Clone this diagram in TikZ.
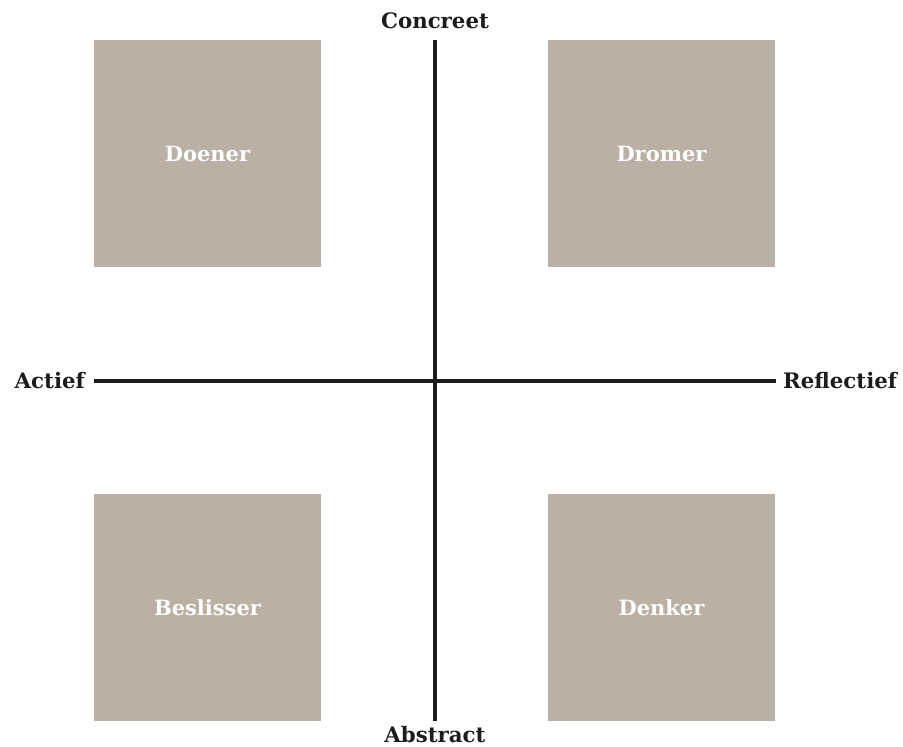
\documentclass[tikz,border=0pt]{standalone}
\usepackage{fontspec}
\setmainfont{DejaVu Serif}
\usepackage{tikz}
\usetikzlibrary{positioning}

\definecolor{kwadrant}{HTML}{BAB0A4}
\definecolor{as}{HTML}{1C1C1C}

\tikzset{
  typebox/.style={fill=kwadrant, minimum width=227pt, minimum height=227pt, inner sep=0pt,
    text=white, font=\fontsize{21}{25}\selectfont\bfseries},
  aslabel/.style={text=as, inner sep=0pt, font=\fontsize{21.3}{25}\selectfont\bfseries},
  asline/.style={draw=as, line width=3.4pt}
}

\begin{document}
\begin{tikzpicture}[x=1pt, y=-1pt]
\useasboundingbox (0,0) rectangle (903,747);

% vier kwadranten
\node[typebox] (doener) at (207.5,153.5) {Doener};
\node[typebox] (dromer) at (661.5,153.5) {Dromer};
\node[typebox] (beslisser) at (207.5,607.5) {Beslisser};
\node[typebox] (denker) at (661.5,607.5) {Denker};

% assen
\coordinate (boven) at (435,40);
\coordinate (onder) at (435,721);
\coordinate (links) at (94,381);
\coordinate (rechts) at (776,381);
\draw[asline] (boven) -- (onder);
\draw[asline] (links) -- (rechts);

\node[aslabel, anchor=base] (concreet) at (435,28) {Concreet};
\node[aslabel, anchor=base] (abstract) at (435,742) {Abstract};
\node[aslabel, left=9pt of links] (actief) {Actief};
\node[aslabel, right=7pt of rechts] (reflectief) {Reflectief};
\end{tikzpicture}
\end{document}
